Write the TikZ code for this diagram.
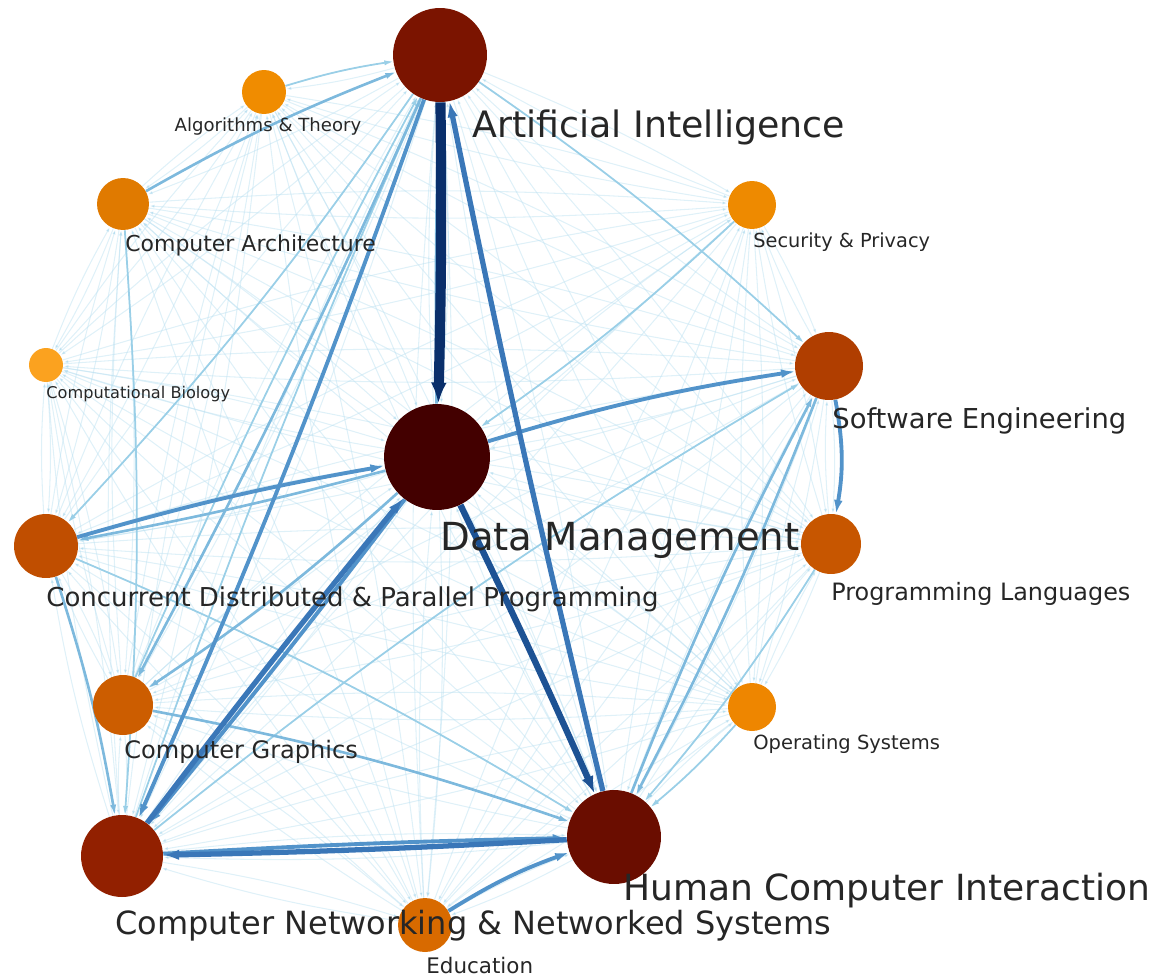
\documentclass[tikz,border=0pt]{standalone}
\usepackage{fontspec}
\setmainfont{DejaVu Sans}
\usetikzlibrary{arrows.meta}

\definecolor{web0}{HTML}{B9DFF0}
\definecolor{web1}{HTML}{9ACFE7}
\definecolor{web2}{HTML}{7DB9DD}
\definecolor{web3}{HTML}{5293CA}
\definecolor{web4}{HTML}{3A77B8}
\definecolor{web5}{HTML}{1D5294}
\definecolor{web6}{HTML}{0A2F6B}

\pgfdeclarelayer{edges}
\pgfsetlayers{edges,main}

\begin{document}
\begin{tikzpicture}[x=0.02cm,y=-0.02cm,
    topic/.style={circle,inner sep=0pt,minimum size=#1*0.04cm},
    lbl/.style={anchor=base west,inner sep=0pt,text=black!85,font=\fontsize{#1}{#1}\selectfont},
    w0/.style={draw=web0,draw opacity=.45,line width=.6pt,-{Latex[length=3pt,width=2pt]}},
    w1/.style={draw=web1,line width=1pt,-{Latex[length=5pt,width=3pt]}},
    w2/.style={draw=web2,line width=1.5pt,-{Latex[length=6pt,width=3.5pt]}},
    w3/.style={draw=web3,line width=2.2pt,-{Latex[length=8pt,width=5pt]}},
    w4/.style={draw=web4,line width=3pt,-{Latex[length=9pt,width=6pt]}},
    w5/.style={draw=web5,line width=3.6pt,-{Latex[length=10pt,width=7pt]}},
    w6/.style={draw=web6,line width=5.8pt,-{Latex[length=12pt,width=9pt]}}]

  \useasboundingbox (0,0) rectangle (1155,977);

  % topics
  \node[topic=47,fill={rgb,255:red,123;green,20;blue,0}]   (AI)   at (440,55)  {};
  \node[topic=22,fill={rgb,255:red,240;green,140;blue,0}]  (AT)   at (264,92)  {};
  \node[topic=26,fill={rgb,255:red,224;green,122;blue,0}]  (CA)   at (123,204) {};
  \node[topic=24,fill={rgb,255:red,238;green,138;blue,0}]  (SP)   at (752,205) {};
  \node[topic=17,fill={rgb,255:red,251;green,162;blue,31}] (CB)   at (46,365)  {};
  \node[topic=34,fill={rgb,255:red,176;green,62;blue,0}]   (SE)   at (829,366) {};
  \node[topic=53,fill={rgb,255:red,67;green,0;blue,0}]     (DM)   at (437,457) {};
  \node[topic=32,fill={rgb,255:red,192;green,78;blue,0}]   (CDPP) at (46,546)  {};
  \node[topic=30,fill={rgb,255:red,199;green,86;blue,0}]   (PL)   at (831,544) {};
  \node[topic=30,fill={rgb,255:red,204;green,93;blue,0}]   (CG)   at (123,705) {};
  \node[topic=24,fill={rgb,255:red,238;green,134;blue,0}]  (OS)   at (752,707) {};
  \node[topic=47,fill={rgb,255:red,106;green,13;blue,0}]   (HCI)  at (614,837) {};
  \node[topic=41,fill={rgb,255:red,146;green,32;blue,0}]   (CNNS) at (122,856) {};
  \node[topic=27,fill={rgb,255:red,216;green,106;blue,0}]  (ED)   at (425,925) {};

  \begin{pgfonlayer}{edges}
  % faint citations between all topics
  \foreach \a in {AI,AT,CA,SP,CB,SE,DM,CDPP,PL,CG,OS,HCI,CNNS,ED}
    \foreach \b in {AI,AT,CA,SP,CB,SE,DM,CDPP,PL,CG,OS,HCI,CNNS,ED}
      {\ifx\a\b\else\draw[w0] (\a) to[bend left=4] (\b);\fi}

  % lighter links
  \draw[w1] (AI) to[bend left=4] (SE);
  \draw[w1] (AI) to[bend left=4] (CDPP);
  \draw[w1] (CDPP) to[bend left=4] (HCI);
  \draw[w1] (CA) to[bend left=4] (CNNS);
  \draw[w1] (PL) to[bend left=4] (HCI);
  \draw[w1] (OS) to[bend left=4] (HCI);
  \draw[w1] (CNNS) to[bend left=4] (SE);
  \draw[w1] (AT) to[bend left=4] (AI);
  \draw[w1] (SP) to[bend left=4] (DM);
  \draw[w1] (CG) to[bend left=2] (AI);
  \draw[w1] (CNNS) to[bend left=2] (AI);
  \draw[w2] (CA) to[bend left=4] (AI);
  \draw[w2] (AI) to[bend left=2] (CG);
  \draw[w2] (DM) to[bend left=4] (CG);
  \draw[w2] (CG) to[bend left=4] (HCI);
  \draw[w2] (SE) to[bend left=3] (HCI);
  \draw[w2] (HCI) to[bend left=3] (SE);
  \draw[w2] (DM) to[bend left=2] (CDPP);
  \draw[w2] (CDPP) to[bend left=4] (CNNS);
  \draw[w2] (DM) to[bend left=1] (AI);

  % strong links
  \draw[w3] (AI) to[bend left=2] (CNNS);
  \draw[w3] (DM) to[bend left=4] (SE);
  \draw[w3] (SE) to[bend left=10] (PL);
  \draw[w3] (CDPP) to[bend left=3] (DM);
  \draw[w3] (ED) to[bend left=6] (HCI);
  \draw[w3] (DM) to[bend left=1] (CNNS);
  \draw[w3] (CNNS) to[bend left=1] (HCI);
  \draw[w4] (HCI) to[bend left=1] (CNNS);
  \draw[w4] (CNNS) to[bend left=1] (DM);
  \draw[w4] (HCI) to[bend left=1] (AI);
  \draw[w5] (DM) to[bend left=1] (HCI);
  \draw[w6] (AI) to[bend left=1] (DM);
  \end{pgfonlayer}

  % labels
  \node[lbl=20.7] (lAI)   at (472,137) {Artificial Intelligence};
  \node[lbl=10.3,anchor=base] (lAT) at (268,131) {Algorithms \& Theory};
  \node[lbl=12.5] (lCA)   at (125,251) {Computer Architecture};
  \node[lbl=11]   (lSP)   at (753,247) {Security \& Privacy};
  \node[lbl=9.2]  (lCB)   at (46,398)  {Computational Biology};
  \node[lbl=15.6] (lSE)   at (832,428) {Software Engineering};
  \node[lbl=22]   (lDM)   at (440,550) {Data Management};
  \node[lbl=14.8] (lCDPP) at (46,606)  {Concurrent Distributed \& Parallel Programming};
  \node[lbl=13.6] (lPL)   at (831,600) {Programming Languages};
  \node[lbl=13.7] (lCG)   at (124,758) {Computer Graphics};
  \node[lbl=11.1] (lOS)   at (753,749) {Operating Systems};
  \node[lbl=20.5] (lHCI)  at (623,900) {Human Computer Interaction};
  \node[lbl=18.2] (lCNNS) at (115,934) {Computer Networking \& Networked Systems};
  \node[lbl=12.2] (lED)   at (426,973) {Education};
\end{tikzpicture}
\end{document}
